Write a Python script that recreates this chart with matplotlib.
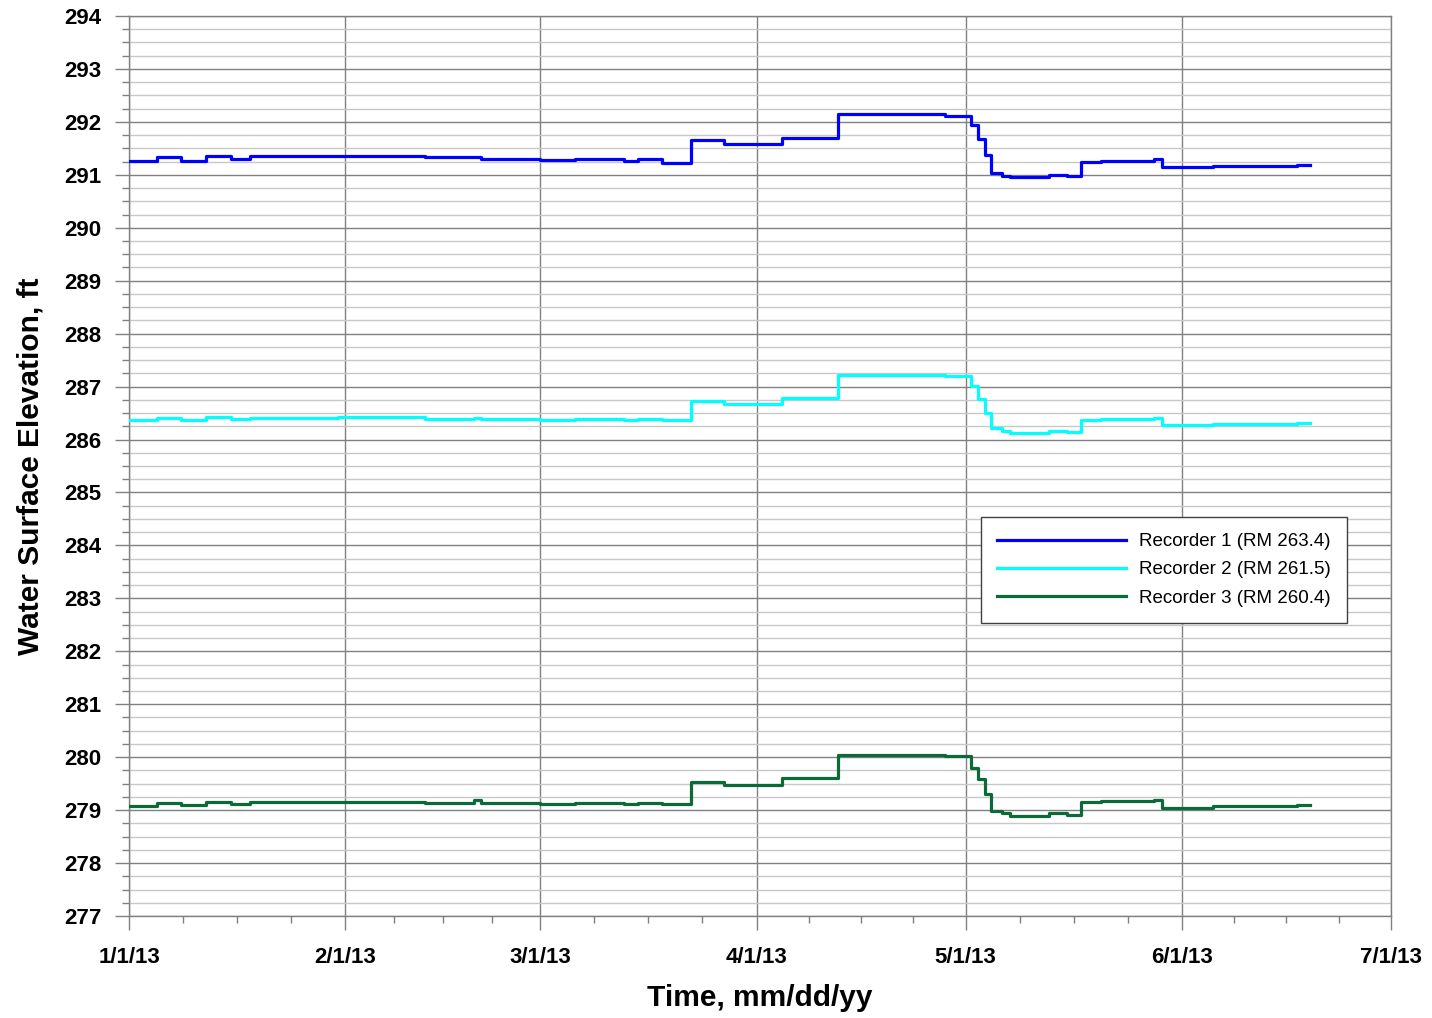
import matplotlib
matplotlib.use("Agg")
import matplotlib.pyplot as plt
import matplotlib.dates as mdates
from matplotlib.ticker import MultipleLocator, FixedLocator
import datetime as dt

# breakpoints of the step record, in days after 1/1/13
dias = [0.0, 4.0, 7.5, 11.0, 14.6, 17.4, 30.0, 42.5, 49.5, 50.5, 59.0, 64.0, 71.0, 73.0,
        76.4, 80.6, 85.4, 93.7, 101.7, 112.0, 117.0, 120.7, 121.7, 122.7, 123.6, 125.2,
        126.4, 132.0, 134.5, 136.6, 139.4, 147.0, 148.1, 155.5, 167.5, 169.4]

rec1 = [291.27, 291.34, 291.27, 291.36, 291.30, 291.35, 291.36, 291.33, 291.34, 291.29,
        291.28, 291.29, 291.27, 291.29, 291.23, 291.66, 291.58, 291.70, 292.15, 292.14,
        292.12, 291.94, 291.68, 291.38, 291.04, 290.98, 290.96, 291.00, 290.98, 291.24,
        291.27, 291.29, 291.14, 291.16, 291.18, 291.18]

rec2 = [286.36, 286.41, 286.36, 286.42, 286.39, 286.41, 286.42, 286.39, 286.40, 286.38,
        286.36, 286.38, 286.37, 286.38, 286.36, 286.73, 286.67, 286.79, 287.22, 287.21,
        287.20, 287.01, 286.76, 286.51, 286.22, 286.17, 286.13, 286.17, 286.14, 286.36,
        286.39, 286.41, 286.27, 286.30, 286.32, 286.32]

rec3 = [279.075, 279.14, 279.09, 279.16, 279.125, 279.16, 279.16, 279.14, 279.19, 279.14,
        279.11, 279.14, 279.12, 279.14, 279.11, 279.53, 279.47, 279.61, 280.04, 280.04,
        280.03, 279.79, 279.59, 279.31, 278.99, 278.95, 278.89, 278.94, 278.91, 279.16,
        279.18, 279.20, 279.04, 279.07, 279.10, 279.10]

etiquetas = ['Recorder 1 (RM 263.4)', 'Recorder 2 (RM 261.5)', 'Recorder 3 (RM 260.4)']
colores = ['#0000FF', '#00FFFF', '#0B6B38']
meses = ['2013-01-01', '2013-02-01', '2013-03-01', '2013-04-01', '2013-05-01', '2013-06-01', '2013-07-01']

plt.rcParams['font.family'] = ['Liberation Sans', 'DejaVu Sans']

inicio = dt.datetime(2013, 1, 1)
fechas = [inicio + dt.timedelta(days=d) for d in dias]
fechas_mes = [dt.datetime.strptime(m, '%Y-%m-%d') for m in meses]

fig = plt.figure(figsize=(14.32, 10.18), dpi=100)
ax = fig.add_axes([129 / 1432, 1 - 916 / 1018, (1391 - 129) / 1432, (916 - 16) / 1018])

for serie, lab, col in zip([rec1, rec2, rec3], etiquetas, colores):
	ax.plot(fechas, serie, drawstyle='steps-post', color=col, lw=2.3, label=lab, zorder=3)

ax.set_xlim(fechas_mes[0], fechas_mes[-1])
ax.set_ylim(277, 294)

mnum = mdates.date2num(fechas_mes)
menores = []
for a, b in zip(mnum[:-1], mnum[1:]):
	for k in range(1, 4):
		menores.append(a + k * (b - a) / 4)
ax.xaxis.set_major_locator(FixedLocator(mnum))
ax.xaxis.set_minor_locator(FixedLocator(menores))
ax.xaxis.set_major_formatter(mdates.DateFormatter('%-m/%-d/%y'))
ax.yaxis.set_major_locator(MultipleLocator(1))
ax.yaxis.set_minor_locator(MultipleLocator(0.25))

ax.grid(axis='x', which='major', color='#808080', lw=1.0)
ax.grid(axis='y', which='major', color='#808080', lw=1.0)
ax.grid(axis='y', which='minor', color='#c8c8c8', lw=1.0)
ax.set_axisbelow(True)

for s in ax.spines.values():
	s.set_color('#808080')
	s.set_linewidth(1.0)

ax.tick_params(axis='both', which='major', length=10, width=1, color='#808080', labelsize=16)
ax.tick_params(axis='both', which='minor', length=5, width=1, color='#808080')
ax.tick_params(axis='y', which='major', pad=10)
ax.tick_params(axis='x', which='major', pad=12)
for t in ax.get_xticklabels() + ax.get_yticklabels():
	t.set_fontweight('bold')

ax.set_xlabel('Time, mm/dd/yy', fontsize=21.5, fontweight='bold', labelpad=12)
ax.set_ylabel('Water Surface Elevation, ft', fontsize=21.5, fontweight='bold', labelpad=14)

leg = ax.legend(loc='upper left', bbox_to_anchor=(981 / 1432, 1 - 517 / 1018), bbox_transform=fig.transFigure,
	fontsize=13.5, handlelength=6.9, handletextpad=0.7, labelspacing=0.6, borderpad=0.85,
	borderaxespad=0, fancybox=False, framealpha=1, edgecolor='#404040')
leg.get_frame().set_linewidth(1.0)

fig.savefig('out.png', dpi=100)
